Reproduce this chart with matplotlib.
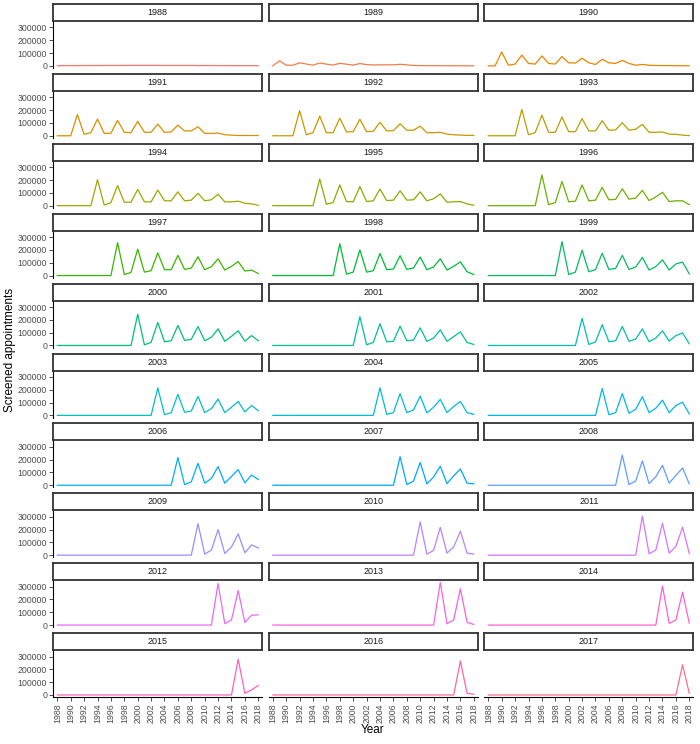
import numpy as np
import matplotlib
matplotlib.use("Agg")
import matplotlib.pyplot as plt

years = list(range(1988, 2019))
cohorts = list(range(1988, 2018))

# screened appointments per calendar year (1988-2018) for each cohort, in thousands
s1988 = [1, 2, 2, 2, 2.5, 2.5, 2.5, 3, 3, 3, 3.5, 3.5, 3.5, 3.5, 3.5, 3.5,
         3, 3, 3, 3, 3, 2.5, 2.5, 2.5, 2, 2, 2, 1.5, 1.5, 1.5, 1]
s1989 = [0, 40, 5, 5, 24, 14, 6, 22, 14, 6, 20, 13, 6, 18, 10, 7,
         8, 8, 8, 12, 8, 3, 2, 2, 1.5, 1.5, 1, 1, 1, 0.5, 0.5]
s1990 = [0, 0, 108, 5, 14, 84, 19, 14, 78, 19, 14, 73, 24, 22, 60, 24,
         11, 51, 24, 19, 43, 19, 5, 11, 5, 3, 2, 2, 1.5, 1, 1]
s1991 = [0, 0, 0, 166, 11, 24, 131, 19, 19, 120, 27, 24, 113, 27, 27, 91,
         27, 30, 83, 38, 38, 70, 19, 19, 21, 8, 5, 2, 2, 2, 2]
s1992 = [0, 0, 0, 0, 196, 8, 24, 153, 24, 24, 137, 30, 32, 129, 32, 35,
         105, 38, 40, 94, 43, 43, 75, 24, 24, 27, 13, 8, 5, 3, 3]
s1993 = [0, 0, 0, 0, 0, 206, 8, 24, 161, 27, 27, 147, 32, 32, 134, 38,
         38, 118, 43, 46, 102, 43, 51, 89, 27, 27, 30, 13, 11, 5, 1]
s1994 = [0, 0, 0, 0, 0, 0, 203, 5, 24, 157, 27, 27, 127, 30, 30, 122,
         38, 38, 108, 38, 43, 97, 38, 46, 89, 30, 30, 35, 19, 14, 3]
s1995 = [0, 0, 0, 0, 0, 0, 0, 208, 11, 24, 162, 32, 30, 149, 32, 38,
         130, 40, 43, 116, 43, 46, 108, 38, 54, 92, 27, 30, 32, 14, 3]
s1996 = [0, 0, 0, 0, 0, 0, 0, 0, 240, 8, 24, 189, 30, 35, 162, 38,
         43, 143, 46, 49, 132, 51, 59, 119, 40, 68, 105, 32, 38, 38, 8]
s1997 = [0, 0, 0, 0, 0, 0, 0, 0, 0, 257, 8, 24, 206, 27, 38, 177,
         46, 46, 158, 48, 59, 147, 46, 70, 131, 43, 72, 110, 35, 43, 16]
s1998 = [0, 0, 0, 0, 0, 0, 0, 0, 0, 0, 249, 11, 27, 201, 27, 38,
         172, 46, 51, 155, 48, 59, 145, 46, 67, 131, 43, 72, 107, 30, 8]
s1999 = [0, 0, 0, 0, 0, 0, 0, 0, 0, 0, 0, 265, 8, 27, 198, 30,
         46, 174, 48, 56, 158, 48, 67, 142, 43, 70, 123, 43, 91, 105, 13]
s2000 = [0, 0, 0, 0, 0, 0, 0, 0, 0, 0, 0, 0, 244, 5, 24, 180,
         29, 37, 156, 40, 48, 148, 37, 64, 130, 32, 72, 114, 34, 77, 37]
s2001 = [0, 0, 0, 0, 0, 0, 0, 0, 0, 0, 0, 0, 0, 225, 5, 24,
         170, 29, 32, 151, 37, 42, 138, 32, 58, 122, 32, 69, 106, 24, 8]
s2002 = [0, 0, 0, 0, 0, 0, 0, 0, 0, 0, 0, 0, 0, 0, 212, 8,
         27, 162, 29, 37, 149, 32, 50, 130, 29, 58, 114, 34, 77, 98, 13]
s2003 = [0, 0, 0, 0, 0, 0, 0, 0, 0, 0, 0, 0, 0, 0, 0, 215,
         5, 21, 164, 24, 34, 148, 21, 53, 127, 21, 64, 109, 27, 77, 37]
s2004 = [0, 0, 0, 0, 0, 0, 0, 0, 0, 0, 0, 0, 0, 0, 0, 0,
         215, 8, 21, 170, 21, 42, 151, 19, 64, 125, 21, 69, 109, 21, 8]
s2005 = [0, 0, 0, 0, 0, 0, 0, 0, 0, 0, 0, 0, 0, 0, 0, 0,
         0, 210, 5, 21, 170, 16, 48, 146, 21, 56, 119, 21, 77, 103, 11]
s2006 = [0, 0, 0, 0, 0, 0, 0, 0, 0, 0, 0, 0, 0, 0, 0, 0,
         0, 0, 217, 5, 27, 172, 16, 53, 146, 16, 69, 122, 19, 80, 45]
s2007 = [0, 0, 0, 0, 0, 0, 0, 0, 0, 0, 0, 0, 0, 0, 0, 0,
         0, 0, 0, 223, 5, 32, 178, 11, 64, 149, 13, 74, 127, 16, 11]
s2008 = [0, 0, 0, 0, 0, 0, 0, 0, 0, 0, 0, 0, 0, 0, 0, 0,
         0, 0, 0, 0, 236, 5, 34, 191, 13, 66, 156, 16, 77, 135, 11]
s2009 = [0, 0, 0, 0, 0, 0, 0, 0, 0, 0, 0, 0, 0, 0, 0, 0,
         0, 0, 0, 0, 0, 247, 8, 40, 199, 13, 64, 167, 19, 80, 56]
s2010 = [0, 0, 0, 0, 0, 0, 0, 0, 0, 0, 0, 0, 0, 0, 0, 0,
         0, 0, 0, 0, 0, 0, 260, 8, 37, 218, 16, 64, 188, 16, 8]
s2011 = [0, 0, 0, 0, 0, 0, 0, 0, 0, 0, 0, 0, 0, 0, 0, 0,
         0, 0, 0, 0, 0, 0, 0, 305, 11, 40, 249, 16, 69, 218, 13]
s2012 = [0, 0, 0, 0, 0, 0, 0, 0, 0, 0, 0, 0, 0, 0, 0, 0,
         0, 0, 0, 0, 0, 0, 0, 0, 326, 11, 40, 270, 21, 77, 80]
s2013 = [0, 0, 0, 0, 0, 0, 0, 0, 0, 0, 0, 0, 0, 0, 0, 0,
         0, 0, 0, 0, 0, 0, 0, 0, 0, 334, 11, 40, 284, 21, 5]
s2014 = [0, 0, 0, 0, 0, 0, 0, 0, 0, 0, 0, 0, 0, 0, 0, 0,
         0, 0, 0, 0, 0, 0, 0, 0, 0, 0, 305, 13, 40, 257, 16]
s2015 = [0, 0, 0, 0, 0, 0, 0, 0, 0, 0, 0, 0, 0, 0, 0, 0,
         0, 0, 0, 0, 0, 0, 0, 0, 0, 0, 0, 279, 13, 40, 74]
s2016 = [0, 0, 0, 0, 0, 0, 0, 0, 0, 0, 0, 0, 0, 0, 0, 0,
         0, 0, 0, 0, 0, 0, 0, 0, 0, 0, 0, 0, 265, 13, 5]
s2017 = [0, 0, 0, 0, 0, 0, 0, 0, 0, 0, 0, 0, 0, 0, 0, 0,
         0, 0, 0, 0, 0, 0, 0, 0, 0, 0, 0, 0, 0, 236, 13]

series = [s1988, s1989, s1990, s1991, s1992, s1993, s1994, s1995, s1996, s1997,
          s1998, s1999, s2000, s2001, s2002, s2003, s2004, s2005, s2006, s2007,
          s2008, s2009, s2010, s2011, s2012, s2013, s2014, s2015, s2016, s2017]

yticks = [0, 100000, 200000, 300000]
xticks = list(range(1988, 2019, 2))


def hcl(h, c=100, l=65):
    # polar LUV -> sRGB, like grDevices::hcl used by ggplot
    h = np.radians(h)
    u, v = c * np.cos(h), c * np.sin(h)
    xn, yn, zn = 95.047, 100.0, 108.883
    un = 4 * xn / (xn + 15 * yn + 3 * zn)
    vn = 9 * yn / (xn + 15 * yn + 3 * zn)
    Y = yn * ((l + 16) / 116) ** 3
    up = u / (13 * l) + un
    vp = v / (13 * l) + vn
    X = Y * 9 * up / (4 * vp)
    Z = Y * (12 - 3 * up - 20 * vp) / (4 * vp)
    X, Y, Z = X / 100, Y / 100, Z / 100
    rgb = np.array([3.2404542 * X - 1.5371385 * Y - 0.4985314 * Z,
                    -0.9692660 * X + 1.8760108 * Y + 0.0415560 * Z,
                    0.0556434 * X - 0.2040259 * Y + 1.0572252 * Z])
    rgb = np.where(rgb <= 0.0031308, 12.92 * rgb, 1.055 * np.clip(rgb, 0, None) ** (1 / 2.4) - 0.055)
    return tuple(np.clip(rgb, 0, 1))


n = len(cohorts)
colours = [hcl(15 + 360 / n * i) for i in range(n)]

plt.rcParams['font.family'] = ['Liberation Sans', 'DejaVu Sans']

W, H = 700, 744
fig = plt.figure(figsize=(7, 7.44), dpi=100)
fig.patch.set_facecolor('white')

pw, ph, sh = 209, 47, 17
for i, (cohort, vals) in enumerate(zip(cohorts, series)):
    r, c = divmod(i, 3)
    x0 = 53.3 + c * 215.5
    top = 21 + r * 69.9
    ax = fig.add_axes([x0 / W, 1 - (top + ph) / H, pw / W, ph / H])
    ax.plot(years, np.array(vals) * 1000, color=colours[i], lw=0.9)
    ax.set_xlim(1987.4, 2018.6)
    ax.set_ylim(-16700, 350700)
    for s in ['top', 'right']:
        ax.spines[s].set_visible(False)
    ax.spines['left'].set_visible(c == 0)
    ax.spines['bottom'].set_visible(r == 9)
    ax.spines['left'].set_linewidth(0.8)
    ax.spines['bottom'].set_linewidth(0.8)
    ax.tick_params(colors='#333333', labelcolor='#4D4D4D', length=3, width=0.6, labelsize=6.3, pad=1.5)
    if c == 0:
        ax.set_yticks(yticks)
        ax.set_yticklabels([str(t) for t in yticks])
    else:
        ax.set_yticks([])
    if r == 9:
        ax.set_xticks(xticks)
        ax.set_xticklabels([str(t) for t in xticks], rotation=90)
    else:
        ax.set_xticks([])

    st = fig.add_axes([x0 / W, 1 - (top) / H, pw / W, sh / H])
    st.set_xticks([])
    st.set_yticks([])
    for s in st.spines.values():
        s.set_linewidth(1.3)
        s.set_color('#333333')
    st.text(0.5, 0.5, str(cohort), ha='center', va='center', fontsize=6.5, color='#1A1A1A',
            transform=st.transAxes)

fig.text(373 / W, 1 - 730 / H, 'Year', ha='center', va='center', fontsize=8.5)
fig.text(10 / W, 1 - 350 / H, 'Screened appointments', ha='center', va='center',
         rotation=90, fontsize=8.5)

fig.savefig('out.png', dpi=100, facecolor='white')
